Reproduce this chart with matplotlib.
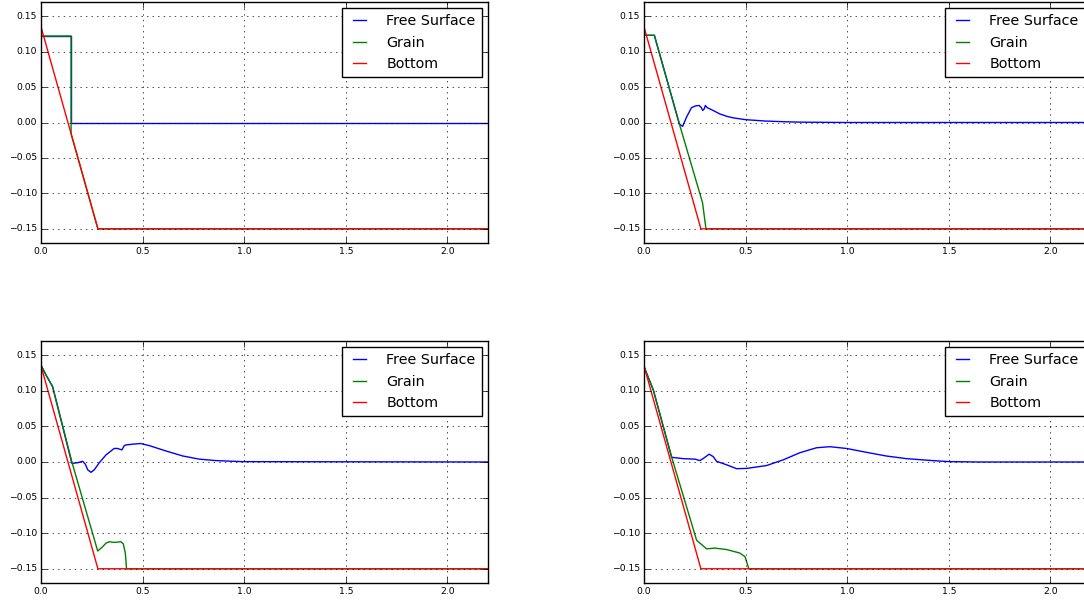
import matplotlib
matplotlib.use('Agg')
import matplotlib.pyplot as plt
import numpy as np

plt.style.use('classic')

# Bed profile shared by every snapshot: a linear slope down to a flat floor
bottom_x = [0.0, 0.28, 2.2]
bottom_y = [0.135, -0.15, -0.15]

# Snapshot 1: initial state, grain column held behind a gate
fs1_x = [0.0, 0.148, 0.148, 2.2]
fs1_y = [0.122, 0.122, 0.0, 0.0]
gr1_x = [0.0, 0.148, 0.148, 0.28, 2.2]
gr1_y = [0.122, 0.122, -0.0157, -0.15, -0.15]

# Snapshot 2
gr2_x = [0.0, 0.051, 0.174, 0.288, 0.305, 2.2]
gr2_y = [0.123, 0.123, -0.002, -0.113, -0.15, -0.15]
fs2_x = [0.0, 0.051, 0.174, 0.19, 0.21, 0.234, 0.255, 0.272, 0.282, 0.289,
         0.296, 0.302, 0.311, 0.34, 0.374, 0.41, 0.44, 0.5, 0.55, 0.6,
         0.7, 0.77, 0.9, 1.0, 2.2]
fs2_y = [0.123, 0.123, -0.002, -0.0055, 0.008, 0.021, 0.0235, 0.024, 0.021, 0.017,
         0.019, 0.024, 0.021, 0.017, 0.012, 0.0085, 0.0065, 0.004, 0.003, 0.002,
         0.001, 0.0005, 0.0002, 0.0, 0.0]

# Snapshot 3
gr3_x = [0.0, 0.025, 0.057, 0.152, 0.279, 0.3, 0.32, 0.336, 0.36, 0.393,
         0.405, 0.415, 0.421, 2.2]
gr3_y = [0.136, 0.122, 0.106, 0.0, -0.125, -0.12, -0.114, -0.112, -0.113, -0.112,
         -0.115, -0.128, -0.15, -0.15]
fs3_x = [0.0, 0.025, 0.057, 0.152, 0.18, 0.205, 0.218, 0.23, 0.246, 0.262,
         0.287, 0.32, 0.36, 0.377, 0.398, 0.41, 0.418, 0.45, 0.49, 0.533,
         0.615, 0.697, 0.779, 0.86, 0.99, 2.2]
fs3_y = [0.136, 0.122, 0.106, -0.002, -0.001, 0.001, -0.003, -0.011, -0.0145, -0.011,
         -0.001, 0.01, 0.019, 0.019, 0.017, 0.023, 0.024, 0.025, 0.026, 0.023,
         0.0155, 0.0085, 0.004, 0.002, 0.0005, 0.0]

# Snapshot 4
gr4_x = [0.0, 0.046, 0.136, 0.259, 0.308, 0.349, 0.407, 0.472, 0.497, 0.516, 2.2]
gr4_y = [0.134, 0.101, 0.007, -0.11, -0.122, -0.121, -0.123, -0.128, -0.133, -0.15, -0.15]
fs4_x = [0.0, 0.046, 0.136, 0.193, 0.251, 0.275, 0.292, 0.321, 0.341, 0.357,
         0.407, 0.456, 0.505, 0.603, 0.685, 0.767, 0.849, 0.915, 0.997, 1.095,
         1.193, 1.292, 1.423, 1.505, 1.65, 2.2]
fs4_y = [0.134, 0.101, 0.0066, 0.0047, 0.004, 0.002, 0.005, 0.011, 0.0075, 0.001,
         -0.004, -0.0094, -0.009, -0.005, 0.003, 0.013, 0.020, 0.0215, 0.019, 0.0136,
         0.0084, 0.0047, 0.0019, 0.0005, 0.0, 0.0]

snapshots = [
    (fs1_x, fs1_y, gr1_x, gr1_y),
    (fs2_x, fs2_y, gr2_x, gr2_y),
    (fs3_x, fs3_y, gr3_x, gr3_y),
    (fs4_x, fs4_y, gr4_x, gr4_y),
]

W, H = 1084, 600
# axes boxes in pixels: left, bottom, width, height
boxes = [(41, 357, 447, 241), (644, 357, 447, 241),
         (41, 17, 447, 242), (644, 17, 447, 242)]

fig = plt.figure(figsize=(W / 100, H / 100), dpi=100)
fig.patch.set_facecolor('white')

for (fx, fy, gx, gy), (l, b, w, h) in zip(snapshots, boxes):
    ax = fig.add_axes([l / W, b / H, w / W, h / H])
    ax.plot(fx, fy, 'b-', lw=1.0, label='Free Surface')
    ax.plot(gx, gy, 'g-', lw=1.0, label='Grain')
    ax.plot(bottom_x, bottom_y, 'r-', lw=1.0, label='Bottom')
    ax.set_xlim(0, 2.2)
    ax.set_ylim(-0.17, 0.17)
    ax.set_xticks([0.0, 0.5, 1.0, 1.5, 2.0])
    ax.set_yticks([-0.15, -0.10, -0.05, 0.0, 0.05, 0.10, 0.15])
    ax.tick_params(labelsize=6.7, pad=3)
    ax.grid(True)
    ax.legend(loc='upper right', fontsize=10.3, handlelength=1.55,
              handletextpad=1.1, borderpad=0.45, labelspacing=0.5,
              borderaxespad=0.42)

fig.savefig('out.png', dpi=100, facecolor='white')
